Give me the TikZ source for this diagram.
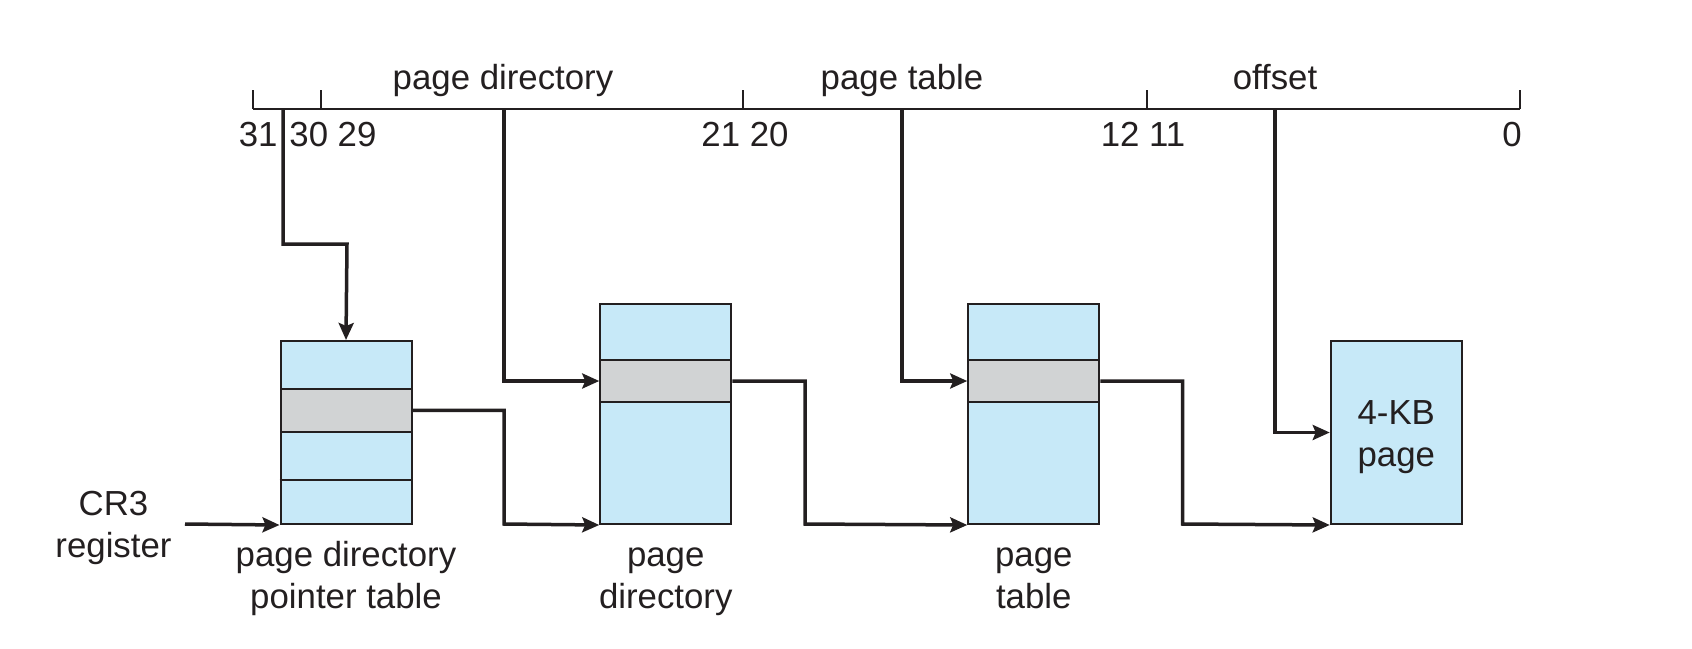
\documentclass[tikz,border=0pt]{standalone}
\usepackage{fontspec}
\setmainfont{Liberation Sans}
\usetikzlibrary{arrows.meta}
\definecolor{tablefill}{RGB}{199,233,248}
\definecolor{entryfill}{RGB}{209,211,212}
\definecolor{ink}{RGB}{35,31,32}

\begin{document}
\begin{tikzpicture}[x=0.5pt,y=-0.5pt,
  lbl/.style={font=\fontsize{17.4}{21}\selectfont, inner sep=0pt, text=ink, align=center},
  tablebox/.style={draw=ink, line width=1pt, fill=tablefill, minimum width=65.5pt, inner sep=0pt},
  entrybox/.style={draw=ink, line width=1pt, fill=entryfill, minimum width=65.5pt, inner sep=0pt},
  rowline/.style={draw=ink, line width=1pt},
  link/.style={draw=ink, line width=1.75pt, -{Stealth[length=8.5pt,width=7.5pt,inset=1.5pt]}},
  ruler/.style={draw=ink, line width=1pt}]

\useasboundingbox (0,0) rectangle (1692,648);

% ---- linear address ruler ----
\coordinate (rl) at (252.5,109.3);
\coordinate (rr) at (1520,109.3);
\draw[ruler] (rl) -- (rr);
\foreach \tx in {252.5,321,743,1146.7,1520}
  \draw[ruler] (\tx,90) -- (\tx,109.3);

\node[lbl, anchor=base] (tpd)  at (503,89.3)  {page directory};
\node[lbl, anchor=base] (tpt)  at (902,89.3)  {page table};
\node[lbl, anchor=base] (toff) at (1275,89.3) {offset};

\node[lbl, anchor=base east] (n31)   at (278,146.7)  {31};
\node[lbl, anchor=base west] (n3029) at (289,146.7)  {30 29};
\node[lbl, anchor=base]      (n2120) at (745,146.7)  {21 20};
\node[lbl, anchor=base]      (n1211) at (1143,146.7) {12 11};
\node[lbl, anchor=base east] (n0)    at (1522,146.7) {0};

% field taps on the ruler
\coordinate (b31)  at (283,109.3);
\coordinate (bpd)  at (504,109.3);
\coordinate (bpt)  at (902,109.3);
\coordinate (boff) at (1275,109.3);

% ---- page directory pointer table ----
\node[tablebox, minimum height=91.5pt] (pdpt) at (346,432.5) {};
\node[entrybox, minimum height=21.35pt] (pdpte) at (346,410.3) {};
\draw[rowline] (pdpt.south west) ++(0,-45) -- ++(131,0);

% ---- page directory ----
\node[tablebox, minimum height=110pt] (pd) at (665.75,414) {};
\node[entrybox, minimum height=21pt] (pde) at (665.75,381) {};

% ---- page table ----
\node[tablebox, minimum height=110pt] (pt) at (1033.75,414) {};
\node[entrybox, minimum height=21pt] (pte) at (1033.75,381) {};

% ---- 4-KB page ----
\node[tablebox, minimum height=91.5pt] (kb) at (1396.25,432.5) {};
\node[lbl] (kbl) at ([yshift=-2.5pt]kb.center) {4-KB\\page};

% ---- captions (base anchor sits on the last line) ----
\node[lbl, anchor=base] (cr3)   at (113.5,557)     {CR3\\register};
\node[lbl, anchor=base] (lpdpt) at (346,608.7)     {page directory\\pointer table};
\node[lbl, anchor=base] (lpd)   at (665.75,608.7)  {page\\directory};
\node[lbl, anchor=base] (lpt)   at (1033.75,608.7) {page\\table};

% ---- connectors ----
\coordinate (cr3end) at (185,524);
\coordinate (j1) at (504,524);
\coordinate (j2) at (805,524);
\coordinate (j3) at (1182.5,524);

\draw[link] (cr3end) -- (pdpt.south west);
\draw[link] (b31) |- (347,244) -- (pdpt.north);
\draw[link] (bpd) |- (pde.west);
\draw[link] (bpt) |- (pte.west);
\draw[link] (boff) |- (kb.west);
\draw[link] (pdpte.east) -| (j1) -- (pd.south west);
\draw[link] (pde.east) -| (j2) -- (pt.south west);
\draw[link] (pte.east) -| (j3) -- (kb.south west);
\end{tikzpicture}
\end{document}
